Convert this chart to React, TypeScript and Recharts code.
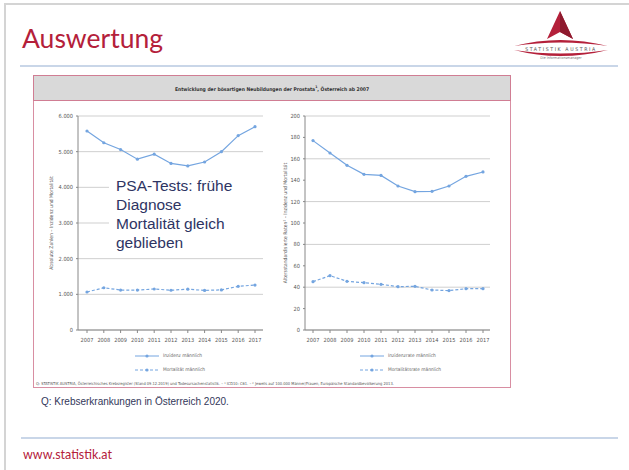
import React from 'react';
import { LineChart, Line, XAxis, YAxis, CartesianGrid, Legend } from 'recharts';

const years = ['2007', '2008', '2009', '2010', '2011', '2012', '2013', '2014', '2015', '2016', '2017'];
const inzidenzAbs = [5580, 5250, 5060, 4790, 4930, 4670, 4600, 4710, 5000, 5450, 5700];
const mortalitaetAbs = [1065, 1185, 1120, 1120, 1150, 1115, 1145, 1110, 1125, 1225, 1260];
const inzidenzRate = [177, 165.4, 153.9, 145.5, 144.5, 134.6, 129.3, 129.6, 134.6, 143.6, 147.7];
const mortalitaetRate = [45.2, 50.8, 45.5, 44.2, 42.7, 40.5, 40.8, 37.4, 36.8, 38.6, 38.6];
const absTicks = [0, 1000, 2000, 3000, 4000, 5000, 6000];
const rateTicks = [0, 20, 40, 60, 80, 100, 120, 140, 160, 180, 200];

const absData = years.map((y, i) => ({ year: y, inz: inzidenzAbs[i], mort: mortalitaetAbs[i] }));
const rateData = years.map((y, i) => ({ year: y, inz: inzidenzRate[i], mort: mortalitaetRate[i] }));

const BLUE = '#74a5e0';
const RED = '#b4203a';
const NARROW = '"Liberation Sans Narrow", "DejaVu Sans Condensed", "Arial Narrow", sans-serif';
const tickStyle = { fontSize: 5.6, fill: '#555', fontFamily: NARROW };

const fmtDe = (v: number) => String(v).replace(/\B(?=(\d{3})+(?!\d))/g, '.');

const LegendContent = (props: any) => {
  const payload = props.payload || [];
  return (
    <div style={{ fontFamily: NARROW }}>
      {payload.map((p: any, i: number) => {
        const dashed = String(p.value).startsWith('Mortalit');
        return (
          <div key={i} style={{ display: 'flex', alignItems: 'center', height: 14 }}>
            <svg width={24} height={6} style={{ display: 'block' }}>
              <line x1={0} y1={3} x2={24} y2={3} stroke={BLUE} strokeWidth={1} strokeDasharray={dashed ? '3 2' : undefined} />
              <circle cx={12} cy={3} r={1.6} fill={BLUE} />
            </svg>
            <span style={{ marginLeft: 4, fontSize: 4.8, color: '#666', lineHeight: '6px' }}>{p.value}</span>
          </div>
        );
      })}
    </div>
  );
};

export default function App() {
  return (
    <div style={{ position: 'absolute', left: 0, top: 0, width: 629, height: 470, background: '#fff', overflow: 'hidden', fontFamily: 'Lato, sans-serif' }}>
      {/* slide frame */}
      <div style={{ position: 'absolute', left: 4, top: 3, width: 640, height: 480, borderLeft: '2px solid #d4d4d4', borderTop: '2px solid #d4d4d4' }} />
      {/* title */}
      <div style={{ position: 'absolute', left: 22, top: 22, fontSize: 26.5, color: RED, fontFamily: 'Lato, sans-serif', lineHeight: '32px' }}>Auswertung</div>
      {/* logo */}
      <svg style={{ position: 'absolute', left: 500, top: 8 }} width={118} height={56}>
        <polygon points="60,3 73,31 60,24 47,31" fill="#b4203a" />
        <polygon points="60,3 73,31 60,24" fill="#8e1a2e" />
        <path d="M14,38 Q60,26 108,38 Q60,31 14,38 Z" fill="#b4203a" />
        <path d="M14,42 Q60,54 108,42 Q60,49 14,42 Z" fill="#b4203a" />
        <text x={61} y={42.5} textAnchor="middle" fontSize={5.2} fill="#555" letterSpacing={1.6} fontFamily={NARROW}>STATISTIK AUSTRIA</text>
        <text x={61} y={51} textAnchor="middle" fontSize={3.6} fill="#777" fontFamily={NARROW}>Die Informationsmanager</text>
      </svg>
      {/* top blue line */}
      <div style={{ position: 'absolute', left: 20, top: 65, width: 598, height: 2, background: '#c9d6e8' }} />

      {/* chart box */}
      <div style={{ position: 'absolute', left: 33, top: 75, width: 476, height: 311, border: '1.5px solid #d88ea2', background: '#fff' }} />
      <div style={{ position: 'absolute', left: 33, top: 75, width: 476, height: 24, background: '#d9d9d9', border: '1.5px solid #d07d93', display: 'flex', alignItems: 'center', justifyContent: 'center' }}>
        <span style={{ fontFamily: NARROW, fontWeight: 'bold', fontSize: 5.0, color: '#333' }}>
          Entwicklung der bösartigen Neubildungen der Prostata<sup style={{ fontSize: 3.5 }}>1</sup>, Österreich ab 2007
        </span>
      </div>

      {/* left chart */}
      <div style={{ position: 'absolute', left: 33, top: 101 }}>
        <LineChart width={240} height={280} data={absData} margin={{ top: 15, right: 10, bottom: 35, left: 15 }}>
          <CartesianGrid vertical={false} stroke="#cfcfcf" strokeWidth={1} />
          <XAxis dataKey="year" padding={{ left: 9, right: 8 }} tick={tickStyle} tickSize={3} tickMargin={5} height={16} stroke="#888" interval={0} />
          <YAxis domain={[0, 6000]} ticks={absTicks} tickFormatter={fmtDe} tick={tickStyle} tickSize={2} tickMargin={3} width={30} stroke="#888"
            label={{ value: 'Absolute Zahlen – Inzidenz und Mortalität', angle: -90, position: 'center', dx: -12, style: { fontSize: 5, fill: '#555', fontFamily: NARROW } }} />
          <Line dataKey="inz" name="Inzidenz männlich" stroke={BLUE} strokeWidth={1.2} dot={{ r: 1.6, fill: BLUE, stroke: BLUE, strokeWidth: 0 }} isAnimationActive={false} />
          <Line dataKey="mort" name="Mortalität männlich" stroke={BLUE} strokeWidth={1.2} strokeDasharray="3 2" dot={{ r: 1.6, fill: BLUE, stroke: BLUE, strokeWidth: 0 }} isAnimationActive={false} />
          <Legend layout="vertical" align="center" verticalAlign="middle" content={LegendContent} wrapperStyle={{ left: 102, top: 248, width: 'auto' }} />
        </LineChart>
      </div>

      {/* right chart */}
      <div style={{ position: 'absolute', left: 270, top: 101 }}>
        <LineChart width={230} height={280} data={rateData} margin={{ top: 15, right: 10, bottom: 35, left: 11 }}>
          <CartesianGrid vertical={false} stroke="#cfcfcf" strokeWidth={1} />
          <XAxis dataKey="year" padding={{ left: 8, right: 7 }} tick={tickStyle} tickSize={3} tickMargin={5} height={16} stroke="#888" interval={0} />
          <YAxis domain={[0, 200]} ticks={rateTicks} tick={tickStyle} tickSize={2} tickMargin={3} width={24} stroke="#888"
            label={{ value: 'Altersstandardisierte Raten² – Inzidenz und Mortalität', angle: -90, position: 'center', dx: -8, style: { fontSize: 5, fill: '#555', fontFamily: NARROW } }} />
          <Line dataKey="inz" name="Inzidenzrate männlich" stroke={BLUE} strokeWidth={1.2} dot={{ r: 1.6, fill: BLUE, stroke: BLUE, strokeWidth: 0 }} isAnimationActive={false} />
          <Line dataKey="mort" name="Mortalitätsrate männlich" stroke={BLUE} strokeWidth={1.2} strokeDasharray="3 2" dot={{ r: 1.6, fill: BLUE, stroke: BLUE, strokeWidth: 0 }} isAnimationActive={false} />
          <Legend layout="vertical" align="center" verticalAlign="middle" content={LegendContent} wrapperStyle={{ left: 90, top: 248, width: 'auto' }} />
        </LineChart>
      </div>

      {/* annotation */}
      <div style={{ position: 'absolute', left: 109, top: 172, width: 160, padding: '4px 0 4px 7px', background: '#fff', fontFamily: '"Liberation Sans", Arial, sans-serif', fontSize: 15.5, lineHeight: '19px', color: '#2e3463' }}>
        PSA-Tests: frühe<br />Diagnose<br />Mortalität gleich<br />geblieben
      </div>

      {/* footnote */}
      <div style={{ position: 'absolute', left: 36, top: 381, fontFamily: NARROW, fontSize: 4.0, color: '#555', whiteSpace: 'nowrap', lineHeight: '5px' }}>
        Q: STATISTIK AUSTRIA, Österreichisches Krebsregister (Stand 09.12.2019) und Todesursachenstatistik. – ¹ ICD10: C61. – ² Jeweils auf 100.000 Männer/Frauen, Europäische Standardbevölkerung 2013.
      </div>

      {/* caption */}
      <div style={{ position: 'absolute', left: 41, top: 396, fontFamily: '"Liberation Sans", Arial, sans-serif', fontSize: 10, color: '#33375a', lineHeight: '12px' }}>
        Q: Krebserkrankungen in Österreich 2020.
      </div>

      {/* bottom line + url */}
      <div style={{ position: 'absolute', left: 21, top: 437, width: 597, height: 2, background: '#c9d6e8' }} />
      <div style={{ position: 'absolute', left: 23, top: 447, fontFamily: 'Lato, sans-serif', fontSize: 12.5, color: RED, lineHeight: '16px' }}>www.statistik.at</div>
    </div>
  );
}
